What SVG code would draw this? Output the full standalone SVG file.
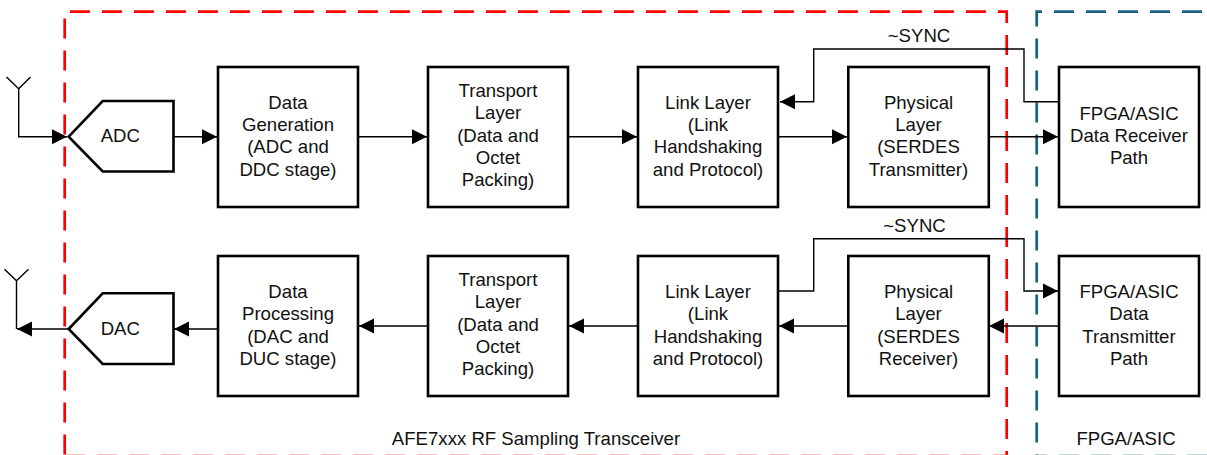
<svg xmlns="http://www.w3.org/2000/svg" width="1207" height="455" viewBox="0 0 1207 455">
<style>
.b{fill:#fff;stroke:#000;stroke-width:2.6;stroke-linejoin:miter}
.c{fill:none;stroke:#000;stroke-width:1.4}
.f{fill:none;stroke-width:2.7;stroke-dasharray:20 12}
text{font-family:"Liberation Sans",Arial,sans-serif;font-size:18.6px;fill:#111;text-anchor:middle}
</style>
<defs>
<marker id="a" markerUnits="userSpaceOnUse" markerWidth="16" markerHeight="16" refX="15" refY="8" orient="auto"><path d="M0 .5L15 8L0 15.5Z" fill="#000"/></marker>
</defs>
<rect width="1207" height="455" fill="#fff"/>
<g id="frames">
<path class="f" stroke="#f00" d="M64.7 454.5V11.7H1006.7V455"/>
<path class="f" stroke="#f00" d="M65 456H1006.7"/>
<path class="f" stroke="#17607a" d="M1202 11.7H1036.7V455"/>
<path class="f" stroke="#17607a" stroke-dashoffset="10" d="M1037 456H1207"/>
</g>
<g id="connectors">
<path class="c" d="M6.500 77L18.700 88.700L30.500 77M18.700 88.700V136.700H67" marker-end="url(#a)"/>
<path class="c" d="M174 136.700H217" marker-end="url(#a)"/>
<path class="c" d="M358 136.700H427" marker-end="url(#a)"/>
<path class="c" d="M568 136.700H637" marker-end="url(#a)"/>
<path class="c" d="M778 136.700H847" marker-end="url(#a)"/>
<path class="c" d="M989 136.700H1058" marker-end="url(#a)"/>
<path class="c" d="M1059 101.700H1024V49H813.700V101.700H780" marker-end="url(#a)"/>
<path class="c" d="M778 291H813.700V238.700H1024V291H1058" marker-end="url(#a)"/>
<path class="c" d="M1059 326H989" marker-end="url(#a)"/>
<path class="c" d="M848 326H779" marker-end="url(#a)"/>
<path class="c" d="M638 326H569" marker-end="url(#a)"/>
<path class="c" d="M428 326H359" marker-end="url(#a)"/>
<path class="c" d="M218 329H174" marker-end="url(#a)"/>
<path class="c" d="M4.500 269.300L16.500 280.700L28.500 269.300M16.500 280.700V329"/>
<path class="c" d="M68 329H17" marker-end="url(#a)"/>
</g>
<g id="adc"><path class="b" d="M68.700 136.700L102.700 101H173.500V171.500H102.700Z"/><text x="120.300" y="142.300">ADC</text></g>
<g id="dac"><path class="b" d="M68.700 329L102.700 293.300H173.500V364H102.700Z"/><text x="120.300" y="335">DAC</text></g>
<g id="data-generation"><rect class="b" x="218" y="67" width="140" height="140"/><text x="288" y="109">Data</text><text x="288" y="131">Generation</text><text x="288" y="153.300">(ADC and</text><text x="288" y="175.700">DDC stage)</text></g>
<g id="transport-tx"><rect class="b" x="428" y="67" width="140" height="140"/><text x="498" y="97">Transport</text><text x="498" y="119.300">Layer</text><text x="498" y="141.600">(Data and</text><text x="498" y="164">Octet</text><text x="498" y="186.300">Packing)</text></g>
<g id="link-tx"><rect class="b" x="638" y="67" width="140" height="140"/><text x="708" y="109">Link Layer</text><text x="708" y="131">(Link</text><text x="708" y="153.300">Handshaking</text><text x="708" y="175.700">and Protocol)</text></g>
<g id="physical-tx"><rect class="b" x="848.300" y="67" width="140.500" height="140"/><text x="918.500" y="109">Physical</text><text x="918.500" y="131">Layer</text><text x="918.500" y="153.300">(SERDES</text><text x="918.500" y="175.700">Transmitter)</text></g>
<g id="fpga-rx"><rect class="b" x="1059" y="67" width="140" height="140"/><text x="1129" y="119.700">FPGA/ASIC</text><text x="1129" y="142">Data Receiver</text><text x="1129" y="164.300">Path</text></g>
<g id="data-processing"><rect class="b" x="218" y="256" width="140" height="140"/><text x="288" y="298">Data</text><text x="288" y="320">Processing</text><text x="288" y="342.500">(DAC and</text><text x="288" y="364.800">DUC stage)</text></g>
<g id="transport-rx"><rect class="b" x="428" y="256" width="140" height="140"/><text x="498" y="286">Transport</text><text x="498" y="308.300">Layer</text><text x="498" y="330.600">(Data and</text><text x="498" y="353">Octet</text><text x="498" y="375.300">Packing)</text></g>
<g id="link-rx"><rect class="b" x="638" y="256" width="140" height="140"/><text x="708" y="298">Link Layer</text><text x="708" y="320">(Link</text><text x="708" y="342.500">Handshaking</text><text x="708" y="364.800">and Protocol)</text></g>
<g id="physical-rx"><rect class="b" x="848.300" y="256" width="140.500" height="140"/><text x="918.500" y="298">Physical</text><text x="918.500" y="320">Layer</text><text x="918.500" y="342.500">(SERDES</text><text x="918.500" y="364.800">Receiver)</text></g>
<g id="fpga-tx"><rect class="b" x="1059" y="256" width="140" height="140"/><text x="1129" y="298">FPGA/ASIC</text><text x="1129" y="320">Data</text><text x="1129" y="342.500">Transmitter</text><text x="1129" y="364.800">Path</text></g>
<g id="labels"><text x="919" y="41.700">~SYNC</text><text x="914.500" y="231.700">~SYNC</text><text x="536" y="444.500">AFE7xxx RF Sampling Transceiver</text><text x="1126" y="444.500">FPGA/ASIC</text></g>
</svg>
